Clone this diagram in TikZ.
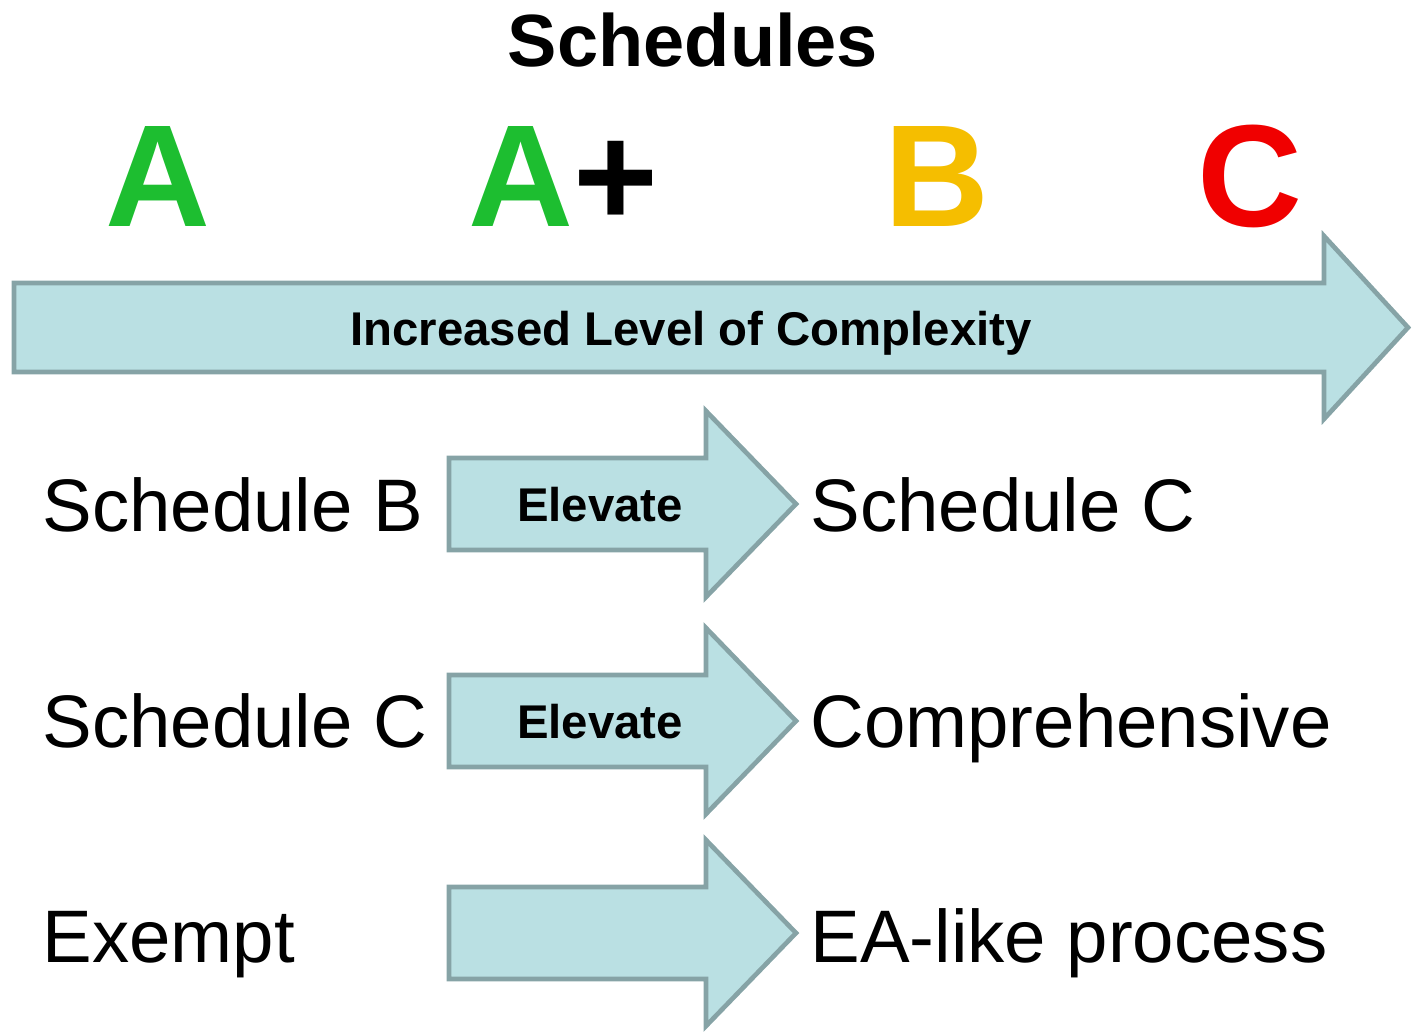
\documentclass[tikz,border=0pt]{standalone}
\usepackage{fontspec}
\setmainfont{Liberation Sans}
\definecolor{arrowfill}{RGB}{186,224,227}
\definecolor{arrowline}{RGB}{134,163,166}
\definecolor{gradeA}{RGB}{29,190,48}
\definecolor{gradeB}{RGB}{245,190,0}
\definecolor{gradeC}{RGB}{240,0,0}
\tikzset{every picture/.style={line width=0.75pt}}
\tikzset{
  bigarrow/.style={draw=arrowline, fill=arrowfill, line width=3.5pt, line join=miter},
  grade/.style={anchor=base, inner sep=0pt, font=\fontsize{109}{112}\selectfont\bfseries},
  rowtext/.style={anchor=base west, inner sep=0pt, font=\fontsize{55.8}{62}\selectfont},
  arrowtext/.style={anchor=base, inner sep=0pt, font=\fontsize{35.5}{40}\selectfont\bfseries}
}

\begin{document}
\begin{tikzpicture}[x=0.75pt,y=0.75pt,yscale=-1,xscale=1]
\useasboundingbox (0,0) rectangle (1414,1032);

% Title
\draw (693,66) node [anchor=base][inner sep=0pt] [font=\fontsize{55.5}{62}\selectfont\bfseries] (title) {Schedules};

% Grades
\draw (158,226) node [grade, text=gradeA] (gradeA) {A};
\draw (563,226) node [grade] (gradeAplus) {\textcolor{gradeA}{A}+};
\draw (937,226) node [grade, text=gradeB] (gradeB) {B};
\draw (1250,226) node [grade, text=gradeC] (gradeC) {C};

%Right Arrow [complexity]
\draw [bigarrow]  (14,283) -- (1324,283) -- (1324,236) -- (1408,327.5) -- (1324,419) -- (1324,372) -- (14,372) -- cycle ;
% Text Node
\draw (691,345) node [arrowtext] (complexity) {Increased Level of Complexity};

%Right Arrow [row 1]
\draw [bigarrow]  (449,458) -- (706,458) -- (706,411) -- (796,504) -- (706,597) -- (706,550) -- (449,550) -- cycle ;
%Right Arrow [row 2]
\draw [bigarrow]  (449,675) -- (706,675) -- (706,628) -- (796,721) -- (706,814) -- (706,767) -- (449,767) -- cycle ;
%Right Arrow [row 3]
\draw [bigarrow]  (449,887) -- (706,887) -- (706,840) -- (796,933) -- (706,1026) -- (706,979) -- (449,979) -- cycle ;

% Text Node
\draw (600,521) node [arrowtext] (elevateB) {Elevate};
% Text Node
\draw (600,738) node [arrowtext] (elevateC) {Elevate};

% Text Node
\draw (42,531) node [rowtext] (schedB) {Schedule B};
% Text Node
\draw (810,531) node [rowtext] (schedCright) {Schedule C};
% Text Node
\draw (42,747) node [rowtext] (schedCleft) {Schedule C};
% Text Node
\draw (810,747) node [rowtext] (comprehensive) {Comprehensive};
% Text Node
\draw (42,962) node [rowtext] (exempt) {Exempt};
% Text Node
\draw (810,962) node [rowtext] (ealike) {EA-like process};
\end{tikzpicture}
\end{document}
